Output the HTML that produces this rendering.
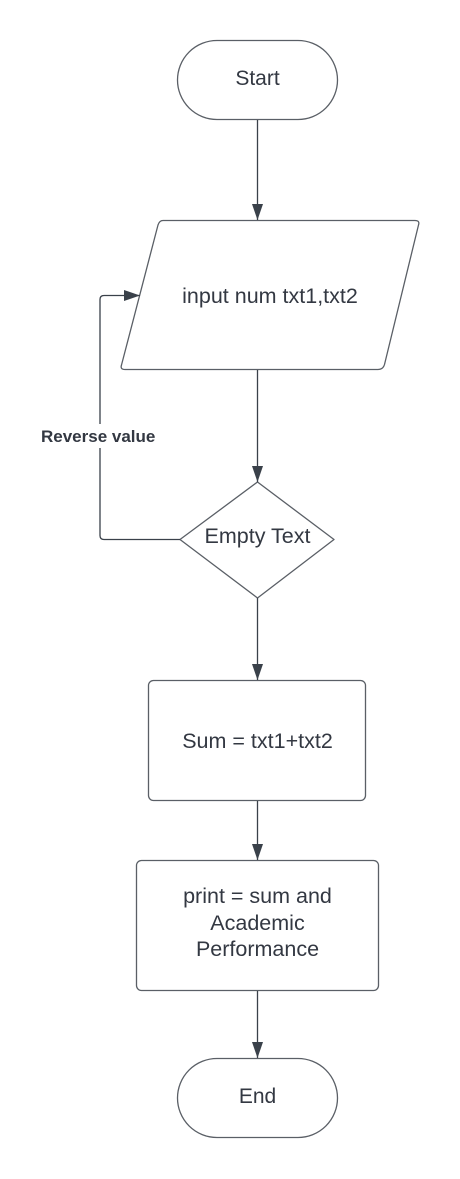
<!DOCTYPE html>
<html><head><meta charset="utf-8"><style>
html,body{margin:0;padding:0;background:#fff;}
svg{display:block;}
text{font-family:"Liberation Sans",Arial,sans-serif;fill:#333842;}
</style></head><body>
<svg width="460" height="1179" viewBox="0 0 460 1179" xmlns="http://www.w3.org/2000/svg">
<defs>
<marker id="a" markerWidth="16" markerHeight="11" refX="16" refY="5.5" orient="auto" markerUnits="userSpaceOnUse" viewBox="0 0 16 11">
<path d="M0,0 L16,5.5 L0,11 Z" fill="#3a414a"/>
</marker>
</defs>
<g fill="none" stroke="#5a5f66" stroke-width="1.3">
<rect x="177.5" y="40.5" width="160" height="79" rx="39.5" fill="#fff"/>
<path d="M163,220.5 L415,220.5 Q420,220.5 418.5,225 L384.5,364.5 Q383,369.5 378,369.5 L125,369.5 Q120,369.5 121.5,365 L158,225 Q159.5,220.5 163,220.5 Z" fill="#fff"/>
<path d="M257.5,482 L334,539.5 L257.5,598 L180,539.5 Z" fill="#fff" stroke-linejoin="round"/>
<rect x="148.5" y="680.5" width="217" height="120" rx="5" fill="#fff"/>
<rect x="136.5" y="860.5" width="242" height="130" rx="5" fill="#fff"/>
<rect x="177.5" y="1058.5" width="160" height="79" rx="39.5" fill="#fff"/>
</g>
<g fill="none" stroke="#3a414a" stroke-width="1.3">
<line x1="257.5" y1="120" x2="257.5" y2="220" marker-end="url(#a)"/>
<line x1="257.5" y1="370" x2="257.5" y2="482" marker-end="url(#a)"/>
<line x1="257.5" y1="598" x2="257.5" y2="680" marker-end="url(#a)"/>
<line x1="257.5" y1="801" x2="257.5" y2="860" marker-end="url(#a)"/>
<line x1="257.5" y1="991" x2="257.5" y2="1058" marker-end="url(#a)"/>
<path d="M180,539.5 L104,539.5 Q100,539.5 100,535.5 L100,299.5 Q100,295.5 104,295.5 L140,295.5" marker-end="url(#a)"/>
</g>
<rect x="38" y="424" width="124" height="24" fill="#fff"/>
<text x="257.5" y="85" font-size="21" text-anchor="middle">Start</text>
<text x="270" y="303" font-size="21.5" text-anchor="middle">input num txt1,txt2</text>
<text x="41" y="442" font-size="17" font-weight="bold">Reverse value</text>
<text x="257.5" y="543" font-size="21.5" text-anchor="middle">Empty Text</text>
<text x="257.5" y="748" font-size="21.5" text-anchor="middle">Sum = txt1+txt2</text>
<text x="257.5" y="903" font-size="21.5" text-anchor="middle">print = sum and</text>
<text x="257.5" y="930" font-size="21.5" text-anchor="middle">Academic</text>
<text x="257.5" y="956" font-size="21.5" text-anchor="middle">Performance</text>
<text x="257.5" y="1103" font-size="21" text-anchor="middle">End</text>
</svg>
</body></html>
